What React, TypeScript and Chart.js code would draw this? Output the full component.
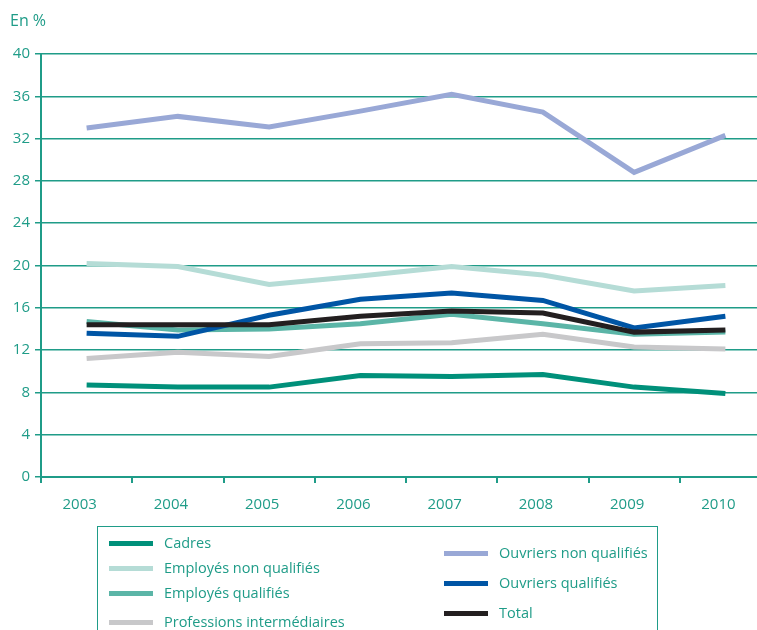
import React, { useEffect, useRef } from "react";
import { Chart, registerables } from "chart.js";

Chart.register(...registerables);

const years = ["2003", "2004", "2005", "2006", "2007", "2008", "2009", "2010"];
const yTicks = [0, 4, 8, 12, 16, 20, 24, 28, 32, 36, 40];

const cadres = [8.7, 8.5, 8.5, 9.6, 9.5, 9.7, 8.5, 7.9];
const employesNonQualifies = [20.2, 19.9, 18.2, 19.0, 19.9, 19.1, 17.6, 18.1];
const employesQualifies = [14.7, 13.9, 14.0, 14.5, 15.4, 14.5, 13.5, 13.7];
const professionsIntermediaires = [11.2, 11.8, 11.4, 12.6, 12.7, 13.5, 12.3, 12.1];
const ouvriersNonQualifies = [33.0, 34.1, 33.1, 34.6, 36.2, 34.5, 28.8, 32.3];
const ouvriersQualifies = [13.6, 13.3, 15.3, 16.8, 17.4, 16.7, 14.1, 15.2];
const total = [14.4, 14.4, 14.4, 15.2, 15.7, 15.5, 13.7, 13.9];

const TEAL = "#1f9c88";
const FONT = "'Open Sans', sans-serif";

const series = [
  { label: "Cadres", data: cadres, color: "#00907a", order: 5 },
  { label: "Employés non qualifiés", data: employesNonQualifies, color: "#b5dcd6", order: 6 },
  { label: "Employés qualifiés", data: employesQualifies, color: "#5bb5a7", order: 3 },
  { label: "Professions intermédiaires", data: professionsIntermediaires, color: "#c8c8ca", order: 4 },
  { label: "Ouvriers non qualifiés", data: ouvriersNonQualifies, color: "#99a8d6", order: 7 },
  { label: "Ouvriers qualifiés", data: ouvriersQualifies, color: "#0055a5", order: 1 },
  { label: "Total", data: total, color: "#231f20", order: 0 },
];

const leftLegend = series.slice(0, 4);
const rightLegend = series.slice(4);

export default function App() {
  const canvasRef = useRef<HTMLCanvasElement | null>(null);

  useEffect(() => {
    document.body.style.margin = "0";
    document.body.style.overflow = "hidden";
    const ctx = canvasRef.current!;
    const chart = new Chart(ctx, {
      type: "line",
      data: {
        labels: years,
        datasets: series.map((s) => ({
          label: s.label,
          data: s.data,
          borderColor: s.color,
          backgroundColor: s.color,
          borderWidth: 5,
          pointRadius: 0,
          tension: 0,
          borderCapStyle: "butt" as const,
          borderJoinStyle: "miter" as const,
          order: s.order,
          fill: false,
        })),
      },
      options: {
        animation: false,
        responsive: false,
        maintainAspectRatio: false,
        layout: { padding: { top: 54, left: 0, right: 1, bottom: 0 } },
        plugins: { legend: { display: false }, tooltip: { enabled: false } },
        scales: {
          x: {
            type: "category",
            offset: true,
            afterFit: (scale: any) => {
              scale.height = 53;
            },
            grid: {
              offset: true,
              drawOnChartArea: false,
              drawTicks: true,
              tickLength: 6,
              color: TEAL,
              lineWidth: 2,
            },
            border: { display: true, color: TEAL, width: 2 },
            ticks: {
              color: TEAL,
              font: { family: FONT, size: 15 },
              padding: 13,
              labelOffset: -7,
              maxRotation: 0,
            },
          },
          y: {
            min: 0,
            max: 40,
            afterFit: (scale: any) => {
              scale.width = 41;
            },
            afterBuildTicks: (scale: any) => {
              scale.ticks = yTicks.map((v) => ({ value: v }));
            },
            grid: {
              color: TEAL,
              lineWidth: 1.5,
              tickLength: 6,
              drawTicks: true,
            },
            border: { display: true, color: TEAL, width: 2 },
            ticks: {
              color: TEAL,
              font: { family: FONT, size: 15 },
              padding: 5,
            },
          },
        },
      },
    } as any);
    return () => chart.destroy();
  }, []);

  const legendItem = (s: any, top: number, left: number) => (
    <div
      key={s.label}
      style={{ position: "absolute", top, left, display: "flex", alignItems: "center", height: 20 }}
    >
      <div style={{ width: 44, height: 5, background: s.color }} />
      <span
        style={{
          marginLeft: 11,
          color: TEAL,
          fontFamily: FONT,
          fontSize: 14.5,
          whiteSpace: "nowrap",
          lineHeight: "20px",
        }}
      >
        {s.label}
      </span>
    </div>
  );

  return (
    <div style={{ position: "relative", width: 757, height: 630, overflow: "hidden", background: "#fff" }}>
      <canvas
        ref={canvasRef}
        width={772}
        height={530}
        style={{ position: "absolute", left: 0, top: 0, width: 772, height: 530 }}
      />
      <div
        style={{
          position: "absolute",
          left: 10,
          top: 9,
          color: TEAL,
          fontFamily: FONT,
          fontSize: 16,
        }}
      >
        En %
      </div>
      <div
        style={{
          position: "absolute",
          left: 97,
          top: 526,
          width: 561,
          height: 130,
          border: `1.5px solid ${TEAL}`,
          boxSizing: "border-box",
        }}
      />
      {leftLegend.map((s, i) => legendItem(s, [533, 558, 583, 612][i], 109))}
      {rightLegend.map((s, i) => legendItem(s, [543, 573, 603][i], 444))}
    </div>
  );
}
